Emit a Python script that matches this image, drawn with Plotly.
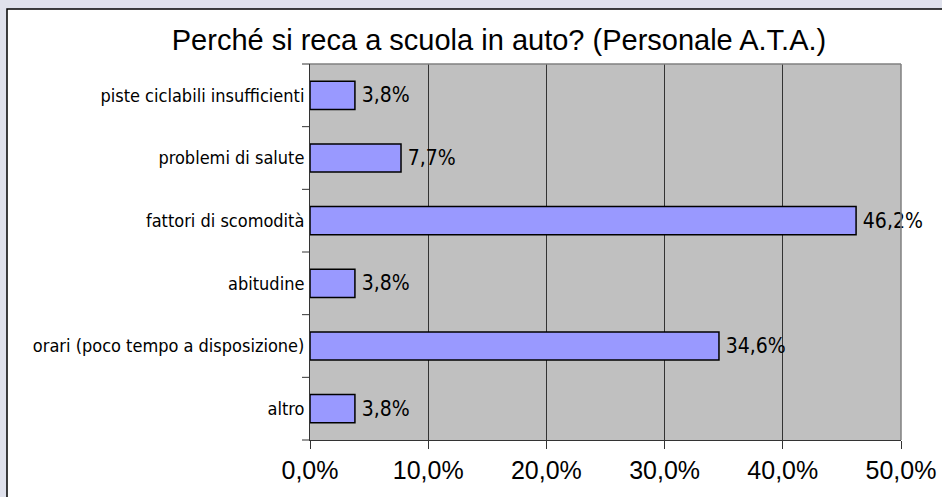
import plotly.graph_objects as go

categories = ["piste ciclabili insufficienti", "problemi di salute", "fattori di scomodità",
              "abitudine", "orari (poco tempo a disposizione)", "altro"]
values = [3.8, 7.7, 46.2, 3.8, 34.6, 3.8]
tick_vals = [0, 10, 20, 30, 40, 50]
tick_text = ["0,0%", "10,0%", "20,0%", "30,0%", "40,0%", "50,0%"]
title = "Perché si reca a scuola in auto? (Personale A.T.A.)"

cond = "DejaVu Sans Condensed"
arial = "Liberation Sans, Arial, sans-serif"

L, R, T, B = 310, 41, 64, 57
PW, PH = 942 - L - R, 497 - T - B

fig = go.Figure(go.Bar(
    y=categories, x=values, orientation="h",
    marker=dict(color="#9999ff", line=dict(color="#000000", width=1.5)),
    width=0.45,
    text=[f"{v:.1f}%".replace(".", ",") for v in values],
    texttemplate="\u2009%{text}",
    textposition="outside", cliponaxis=False,
    textfont=dict(family=cond, size=21, color="#000000"),
))

fig.update_layout(
    width=942, height=497,
    margin=dict(l=L, r=R, t=T, b=B, autoexpand=False),
    paper_bgcolor="#dfe1ec",
    plot_bgcolor="#c0c0c0",
    showlegend=False,
    title=dict(text=title, xref="paper", x=(499 - L)/PW, xanchor="center",
               y=1 - 40/497, yanchor="middle",
               font=dict(family=arial, size=29, color="#000000")),
    shapes=[
        dict(type="rect", xref="paper", yref="paper", x0=-(L - 7)/PW, x1=(942 - L + 5)/PW,
             y0=-0.3, y1=(497 - 9 - B)/PH, fillcolor="#ffffff",
             line=dict(color="#000000", width=1.5), layer="below"),
        dict(type="rect", xref="paper", yref="paper", x0=0, x1=1, y0=0, y1=1,
             fillcolor="#c0c0c0", line=dict(width=0), layer="below"),
    ],
)
fig.update_xaxes(range=[0, 50], tickvals=tick_vals, ticktext=tick_text,
                 automargin=False,
                 showgrid=True, gridcolor="#333333", gridwidth=1,
                 ticks="outside", ticklen=8, tickcolor="#333333",
                 showline=True, linecolor="#333333", linewidth=1,
                 tickfont=dict(family=arial, size=25, color="#000000"),
                 zeroline=False)
fig.update_yaxes(categoryorder="array", categoryarray=categories[::-1],
                 automargin=False,
                 ticks="", showline=True, linecolor="#333333", linewidth=1,
                 tickfont=dict(family=cond, size=18, color="#000000"),
                 ticklabelstandoff=1)
fig.add_shape(type="line", xref="paper", yref="paper", x0=0, x1=1, y0=1, y1=1,
              line=dict(color="#808080", width=1.5))
fig.add_shape(type="line", xref="paper", yref="paper", x0=1, x1=1, y0=0, y1=1,
              line=dict(color="#808080", width=1.5))
for i in range(len(categories) + 1):
    fig.add_shape(type="line", xref="paper", yref="paper", x0=-8/PW, x1=0,
                  y0=i / len(categories), y1=i / len(categories),
                  line=dict(color="#333333", width=1))

fig.write_html("out.html", config={"displayModeBar": False},
               post_script="document.body.style.margin='0';document.body.style.background='#dfe1ec';document.body.style.overflow='hidden';")
